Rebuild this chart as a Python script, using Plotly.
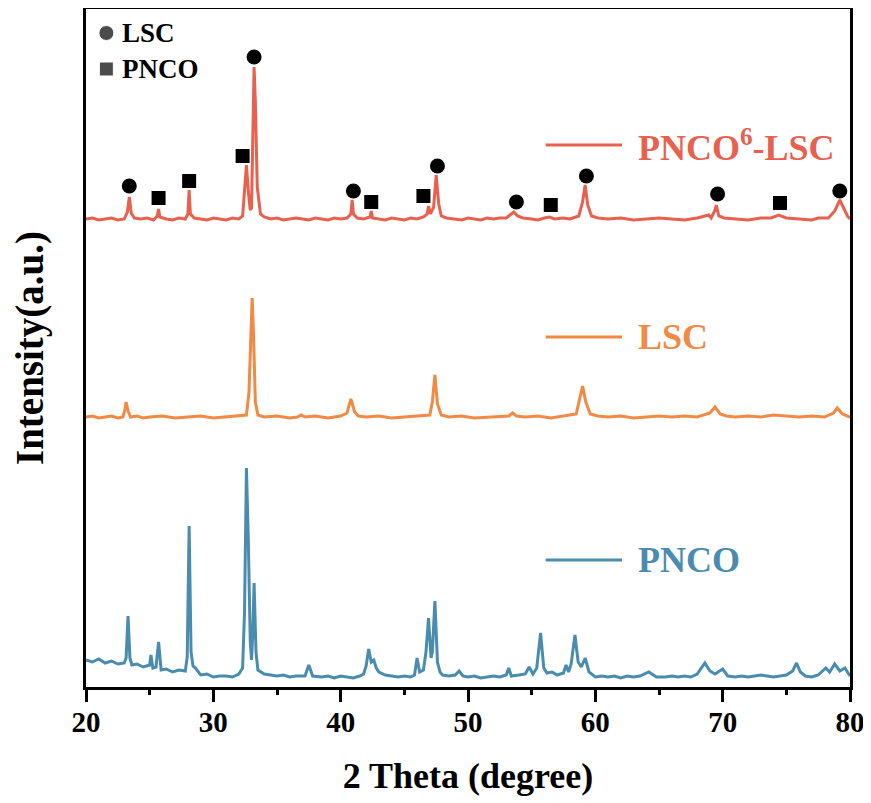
import plotly.graph_objects as go

# ---------------- data ----------------
pnco_x = [20.0, 20.5, 21.0, 21.5, 22.0, 22.5, 23.0, 23.15, 23.3, 23.45, 23.6, 24.0, 24.5, 25.0, 25.1, 25.25,
          25.5, 25.7, 25.9, 26.3, 26.8, 27.3, 27.8, 27.95, 28.1, 28.25, 28.4, 28.6, 29.0, 29.5, 30.0, 30.5,
          31.0, 31.5, 32.0, 32.3, 32.45, 32.6, 32.75, 32.9, 33.0, 33.1, 33.2, 33.35, 33.5, 34.0, 34.5, 35.0,
          35.5, 36.0, 36.5, 37.2, 37.5, 37.8, 38.5, 39.0, 39.5, 40.0, 40.5, 41.0, 41.5, 41.8, 42.0, 42.2,
          42.4, 42.6, 42.8, 43.0, 43.5, 44.0, 44.5, 45.0, 45.5, 45.8, 46.0, 46.2, 46.5, 46.7, 46.9, 47.1,
          47.2, 47.4, 47.6, 47.8, 48.0, 48.5, 49.0, 49.3, 49.6, 50.0, 50.5, 51.0, 51.5, 52.0, 52.5, 53.0,
          53.2, 53.4, 54.0, 54.5, 54.8, 55.1, 55.4, 55.7, 55.95, 56.2, 56.6, 57.0, 57.5, 57.7, 57.9, 58.1,
          58.4, 58.65, 58.9, 59.2, 59.5, 60.0, 60.5, 61.0, 61.5, 62.0, 62.5, 63.0, 63.5, 64.2, 64.8, 65.5,
          66.0, 66.5, 67.0, 67.5, 68.0, 68.3, 68.6, 69.0, 69.4, 70.0, 70.4, 71.0, 71.5, 72.0, 72.5, 73.0,
          73.5, 74.0, 74.5, 75.0, 75.5, 75.8, 76.1, 76.5, 77.0, 77.5, 78.1, 78.4, 78.8, 79.2, 79.6, 80.0]
pnco_y = [32, 30, 33, 29, 31, 28, 29, 34, 76, 34, 27, 28, 25, 27, 37, 24,
          25, 50, 22, 23, 20, 22, 21, 35, 166, 40, 26, 24, 17, 18, 15, 16,
          16, 15, 18, 24, 80, 224, 150, 50, 32, 60, 109, 40, 22, 18, 17, 16,
          17, 15, 16, 16, 27, 16, 15, 16, 14, 16, 15, 14, 16, 18, 26, 43,
          30, 32, 24, 20, 17, 16, 15, 16, 15, 17, 34, 20, 22, 40, 74, 34,
          40, 91, 30, 20, 17, 16, 17, 21, 16, 15, 16, 14, 15, 16, 15, 17,
          24, 16, 17, 18, 25, 18, 24, 59, 24, 19, 20, 17, 19, 27, 20, 28,
          57, 30, 25, 34, 20, 15, 16, 15, 16, 14, 16, 15, 16, 20, 15, 15,
          16, 15, 16, 15, 18, 24, 29, 21, 18, 23, 16, 15, 16, 15, 16, 17,
          16, 15, 16, 17, 21, 29, 20, 16, 15, 17, 24, 20, 28, 21, 24, 16]

lsc_x = [20.0, 20.5, 21.0, 21.5, 22.0, 22.5, 22.9, 23.05, 23.15, 23.3, 23.5, 24.0, 24.5, 25, 26, 27,
         28, 29, 30, 31, 32, 32.6, 32.8, 32.95, 33.05, 33.15, 33.3, 33.5, 34, 35, 36, 36.6,
         36.9, 37.2, 38, 39, 40, 40.5, 40.8, 41.1, 41.4, 42, 43, 44, 45, 46, 47, 47.2,
         47.4, 47.6, 47.9, 48.5, 49.5, 50.5, 51.5, 52.5, 53.2, 53.5, 53.8, 54.5, 55.5, 56.5, 57.5, 58.5,
         58.8, 59.0, 59.25, 59.6, 60.2, 61, 62, 63, 64, 65, 66, 67, 68, 69.0, 69.4, 69.8,
         70.3, 71, 72, 73, 74, 75, 76, 77, 78, 78.7, 79.0, 79.4, 79.8, 80.0]
lsc_y = [275, 276, 274, 275, 276, 274, 275, 282, 290, 281, 275, 276, 274, 275, 276, 274,
         275, 276, 274, 275, 276, 277, 300, 370, 394, 360, 290, 277, 275, 276, 274, 275,
         277, 275, 276, 274, 276, 279, 293, 280, 276, 275, 276, 274, 275, 276, 277, 290,
         317, 288, 277, 275, 276, 274, 275, 276, 276, 279, 276, 275, 276, 274, 276, 278,
         295, 306, 290, 278, 276, 275, 276, 274, 275, 276, 275, 276, 275, 279, 285, 278,
         276, 275, 276, 275, 277, 276, 275, 276, 275, 279, 284, 278, 276, 275]

mix_x = [20.0, 20.5, 21.0, 21.5, 22.0, 22.5, 23.0, 23.25, 23.4, 23.55, 23.8, 24.3, 24.8, 25.3, 25.6, 25.7,
         25.8, 26.3, 26.8, 27.3, 27.8, 28.0, 28.1, 28.2, 28.5, 29, 29.5, 30, 30.5, 31, 31.5, 32.0,
         32.3, 32.5, 32.6, 32.75, 32.9, 33.0, 33.1, 33.2, 33.3, 33.45, 33.7, 34.0, 34.5, 35, 35.5, 36,
         36.5, 37, 37.5, 38, 38.5, 39, 39.5, 40, 40.5, 40.8, 40.9, 41.0, 41.3, 41.8, 42.3, 42.4,
         42.5, 43, 43.5, 44, 44.5, 45, 45.5, 46, 46.5, 46.8, 46.9, 47.05, 47.3, 47.5, 47.7, 47.9,
         48.3, 49, 49.5, 50, 50.5, 51, 51.5, 52, 52.5, 53.0, 53.3, 53.6, 53.9, 54.3, 55, 55.5,
         56, 56.4, 56.8, 57.5, 58.0, 58.7, 59.0, 59.2, 59.4, 59.7, 60.2, 61, 62, 63, 64, 65,
         66, 67, 68, 68.7, 68.9, 69.1, 69.4, 69.5, 69.7, 70.1, 71, 72, 73, 73.8, 74.4, 75.0,
         76, 77, 77.5, 78.3, 78.8, 79.2, 79.5, 79.8, 80.0]
mix_y = [473, 474, 472, 473, 474, 472, 473, 480, 495, 479, 474, 473, 474, 472, 476, 483,
         475, 473, 472, 474, 473, 478, 502, 478, 474, 473, 472, 474, 473, 472, 474, 473,
         476, 510, 527, 500, 482, 484, 560, 625, 590, 505, 478, 475, 473, 474, 472, 473,
         474, 473, 472, 474, 473, 472, 474, 473, 474, 478, 492, 478, 474, 473, 475, 481,
         474, 473, 472, 474, 473, 472, 474, 473, 475, 478, 486, 478, 485, 517, 488, 476,
         474, 473, 472, 474, 473, 472, 474, 473, 474, 474, 477, 480, 476, 474, 473, 472,
         474, 475, 473, 474, 473, 476, 490, 507, 487, 476, 474, 473, 474, 472, 473, 474,
         473, 472, 474, 476, 477, 474, 482, 487, 476, 474, 473, 472, 474, 474, 477, 474,
         473, 472, 474, 474, 481, 492, 484, 476, 473]

# phase markers on the PNCO6-LSC pattern
lsc_mark_x = [23.4, 33.2, 41.0, 47.6, 53.8, 59.3, 69.6, 79.2]
lsc_mark_y = [506, 635, 501, 526, 490, 516, 498, 501]
pnco_mark_x = [25.7, 28.1, 32.3, 42.4, 46.5, 56.5, 74.5]
pnco_mark_y = [494, 511, 536, 490, 496, 487, 489]

series_names = ["PNCO<sup>6</sup>-LSC", "LSC", "PNCO"]
series_colors = ["#E8604E", "#F08A45", "#4A8CB0"]
x_ticks = [20, 30, 40, 50, 60, 70, 80]

FONT = "Liberation Serif"

fig = go.Figure()
for xs, ys, col in [(mix_x, mix_y, series_colors[0]),
                    (lsc_x, lsc_y, series_colors[1]),
                    (pnco_x, pnco_y, series_colors[2])]:
    fig.add_trace(go.Scatter(x=xs, y=ys, mode="lines",
                             line=dict(color=col, width=3), showlegend=False))

fig.add_trace(go.Scatter(x=lsc_mark_x, y=lsc_mark_y, mode="markers",
                         marker=dict(symbol="circle", size=15, color="black"), showlegend=False))
fig.add_trace(go.Scatter(x=pnco_mark_x, y=pnco_mark_y, mode="markers",
                         marker=dict(symbol="square", size=14, color="black"), showlegend=False))

# key for the phase markers (top-left)
fig.add_trace(go.Scatter(x=[21.6, 21.6], y=[659, 623], mode="markers",
                         marker=dict(symbol=["circle", "square"], size=[15, 14], color="black"),
                         showlegend=False))
for txt, yv in [("LSC", 659), ("PNCO", 623)]:
    fig.add_annotation(x=22.65, y=yv, text=txt, showarrow=False, xanchor="left", yanchor="middle",
                       font=dict(family=FONT, size=27, color="black", weight="bold"))

# curve labels
label_y = [547, 355, 132]
for name, col, yv in zip(series_names, series_colors, label_y):
    fig.add_shape(type="line", x0=56.1, x1=62.1, y0=yv, y1=yv, xref="x", yref="y",
                  line=dict(color=col, width=3))
    fig.add_annotation(x=63.2, y=yv, text=name, showarrow=False, xanchor="left", yanchor="middle",
                       font=dict(family=FONT, size=36, color=col, weight="bold"))

fig.update_layout(
    width=863, height=795,
    margin=dict(l=78, r=21, t=1, b=116, autoexpand=False),
    paper_bgcolor="white", plot_bgcolor="white",
    font=dict(family=FONT, color="black"),
)
fig.update_xaxes(
    range=[20, 80], tickvals=x_ticks, ticktext=[str(v) for v in x_ticks],
    showline=True, linecolor="black", linewidth=3, mirror=True,
    ticks="outside", ticklen=12, tickwidth=3, tickcolor="black",
    minor=dict(dtick=5, ticklen=5, tickwidth=3, tickcolor="black", ticks="outside"),
    showgrid=False, zeroline=False, automargin=False,
    ticklabelstandoff=-5,
    tickfont=dict(family=FONT, size=29, color="black", weight="bold"),
    title=dict(text="2 Theta (degree)", standoff=27,
               font=dict(family=FONT, size=36, color="black", weight="bold")),
)
fig.update_yaxes(
    range=[5, 683], showticklabels=False, ticks="",
    showline=True, linecolor="black", linewidth=3, mirror=True,
    showgrid=False, zeroline=False, automargin=False,
    title=dict(text="Intensity(a.u.)", standoff=28,
               font=dict(family=FONT, size=39, color="black", weight="bold")),
)

fig.write_html("out.html")
